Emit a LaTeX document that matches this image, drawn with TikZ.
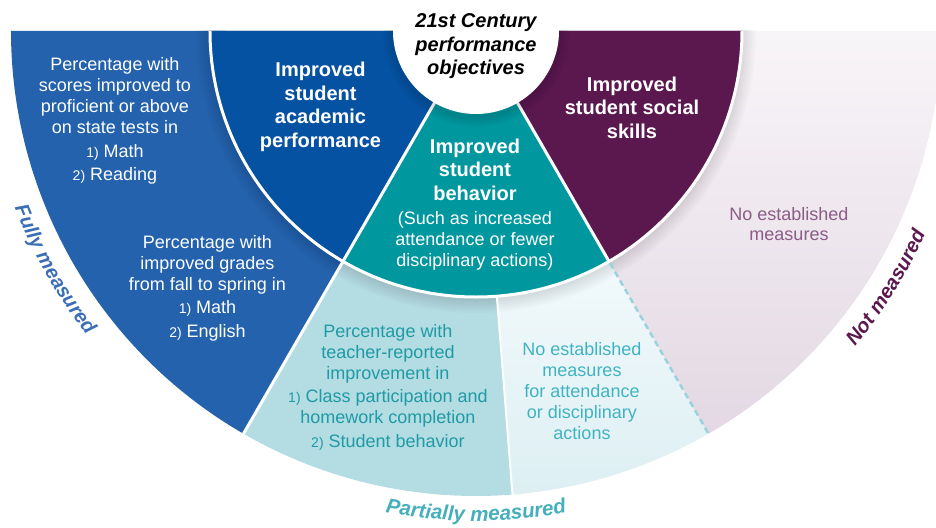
\documentclass[tikz,border=0pt]{standalone}
\usepackage{fontspec}
\setmainfont{Liberation Sans}
\usetikzlibrary{decorations.text}
\definecolor{blueOut}{HTML}{2462AD}
\definecolor{blueIn}{HTML}{0652A2}
\definecolor{tealIn}{HTML}{00979F}
\definecolor{purpIn}{HTML}{5A184F}
\definecolor{ltTeal}{HTML}{B4DCE3}
\definecolor{paleTop}{HTML}{F3FAFC}
\definecolor{paleBot}{HTML}{DDEFF3}
\definecolor{lilTop}{HTML}{F8F5F8}
\definecolor{lilBot}{HTML}{E3D8E3}
\definecolor{txtTeal}{HTML}{1E9BA4}
\definecolor{txtPale}{HTML}{40B3C3}
\definecolor{txtLilac}{HTML}{8A5C87}
\definecolor{lblBlue}{HTML}{3C6EB6}
\definecolor{lblTeal}{HTML}{45AFBB}
\definecolor{dashC}{HTML}{9BD3DC}
\newcommand\smnum[1]{{\fontsize{14}{14}\selectfont #1}}
\tikzset{
  hdr/.style={font=\bfseries\fontsize{20}{23.5}\selectfont, text=white, align=center, anchor=base, inner sep=0pt},
  bodytxt/.style={font=\fontsize{18}{21}\selectfont, align=center, anchor=base, inner sep=0pt},
  sepline/.style={white, line width=3pt},
  arclbl/.style={decorate, decoration={text along path, text align=center, text color=#1}},
}
\begin{document}
\begin{tikzpicture}[x=1pt,y=1pt]
\useasboundingbox (-476,-496) rectangle (460,31);
% outer ring sectors
\fill[blueOut] (180:250pt) -- (180:465pt) arc[start angle=180,end angle=240,radius=465pt] -- (240:250pt) arc[start angle=240,end angle=180,radius=250pt] -- cycle;
\fill[ltTeal] (240:250pt) -- (240:465pt) arc[start angle=240,end angle=274.5,radius=465pt] -- (274.5:250pt) arc[start angle=274.5,end angle=240,radius=250pt] -- cycle;
\shade[top color=paleTop, bottom color=paleBot] (274.5:250pt) -- (274.5:465pt) arc[start angle=274.5,end angle=300,radius=465pt] -- (300:250pt) arc[start angle=300,end angle=274.5,radius=250pt] -- cycle;
\shade[top color=lilTop, bottom color=lilBot] (300:250pt) -- (300:465pt) arc[start angle=300,end angle=360,radius=465pt] -- (360:250pt) arc[start angle=360,end angle=300,radius=250pt] -- cycle;
% soft shadow of the inner half disc
\begin{scope}
\clip (-476,-496) rectangle (460,0);
\foreach \k in {2,4,...,14} {\fill[black, opacity=0.016] (0,-2) circle[radius={266pt+\k pt}];}
\end{scope}
% inner sectors
\fill[blueIn] (0,0) -- (180:266pt) arc[start angle=180,end angle=240,radius=266pt] -- cycle;
\fill[tealIn] (0,0) -- (240:266pt) arc[start angle=240,end angle=300,radius=266pt] -- cycle;
\fill[purpIn] (0,0) -- (300:266pt) arc[start angle=300,end angle=360,radius=266pt] -- cycle;
% separators
\draw[sepline] (180:266pt) arc[start angle=180,end angle=360,radius=266pt];
\draw[sepline] (240:80pt) -- (240:465pt);
\draw[sepline] (300:80pt) -- (300:266pt);
\draw[white, line width=2pt] (274.5:266pt) -- (274.5:465pt);
\draw[dashC, line width=2.5pt, dash pattern=on 6pt off 4pt] (300:268pt) -- (300:465pt);
% centre circle with shadow
\begin{scope}
\clip (-476,-496) rectangle (460,0);
\foreach \k in {2,4,...,10} {\fill[black, opacity=0.025] (0,-3) circle[radius={83pt+\k pt}];}
\end{scope}
\fill[white] (0,0) circle[radius=83pt];
% texts (anchor = baseline of the last line)
\node[hdr, text=black, font=\bfseries\itshape\fontsize{20}{23.5}\selectfont] (title) at (0,-44) {21st Century\\performance\\objectives};
\node[hdr] (acad) at (-155.5,-116) {Improved\\student\\academic\\performance};
\node[hdr] (behav) at (-1,-169) {Improved\\student\\behavior};
\node[bodytxt, text=white] (behavsub) at (-1,-235) {(Such as increased\\attendance or fewer\\disciplinary actions)};
\node[hdr] (social) at (156,-107) {Improved\\student social\\skills};
\node[bodytxt, text=white] (fm1) at (-361,-149) {Percentage with\\scores improved to\\proficient or above\\on state tests in\\[3pt]\smnum{1)} Math\\[2pt]\smnum{2)} Reading};
\node[bodytxt, text=white] (fm2) at (-268.5,-306) {Percentage with\\improved grades\\from fall to spring in\\[2pt]\smnum{1)} Math\\[3pt]\smnum{2)} English};
\node[bodytxt, text=txtTeal] (pm1) at (-88,-348) {Percentage with\\teacher-reported\\improvement in};
\node[bodytxt, text=txtTeal] (pm2) at (-88,-416) {\smnum{1)} Class participation and\\homework completion\\[3pt]\smnum{2)} Student behavior};
\node[bodytxt, text=txtPale] (pm3) at (106,-408) {No established\\measures\\for attendance\\or disciplinary\\actions};
\node[bodytxt, text=txtLilac, font=\fontsize{18}{20}\selectfont] (nm1) at (313,-209) {No established\\measures};
% curved labels
\path[arclbl=lblBlue, decoration={text={|\bfseries\itshape\fontsize{20}{20}\selectfont|Fully measured}}] (195:494pt) arc[start angle=195,end angle=224,radius=494pt];
\path[arclbl=lblTeal, decoration={text={|\bfseries\itshape\fontsize{20.5}{20.5}\selectfont|Partially measured}}] (250:490pt) arc[start angle=250,end angle=290,radius=490pt];
\path[arclbl=purpIn, decoration={text={|\bfseries\itshape\fontsize{20}{20}\selectfont|Not measured}}] (313:493pt) arc[start angle=313,end angle=343,radius=493pt];
\end{tikzpicture}
\end{document}
